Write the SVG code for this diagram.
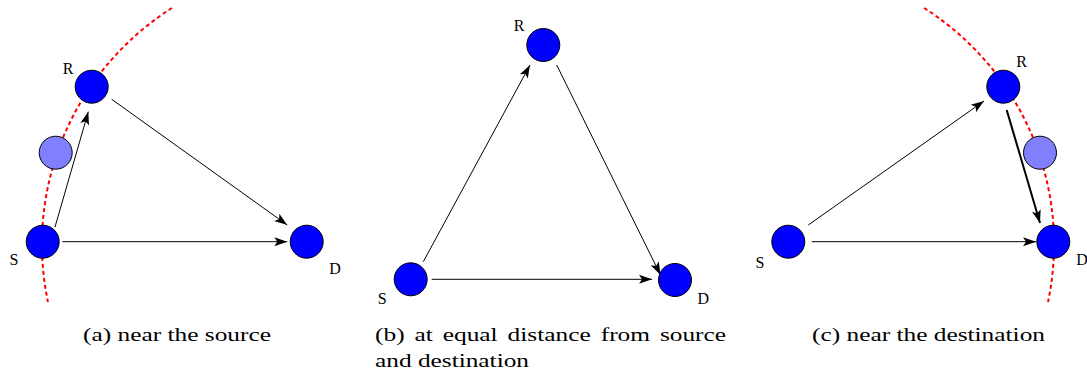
<svg xmlns="http://www.w3.org/2000/svg" width="1087" height="374" viewBox="0 0 1087 374">
<style>
.node{fill:#0000ff;stroke:#000;stroke-width:1}
.ghost{fill:#8080ff;stroke:#000;stroke-width:1}
.arc{fill:none;stroke:#ff0000;stroke-width:2;stroke-dasharray:4 3}
.edge{stroke:#000;stroke-width:1;fill:none;marker-end:url(#ah)}
.thick{stroke-width:2}
.lbl{font-family:"Liberation Serif","DejaVu Serif",serif;font-size:16px;fill:#000;text-anchor:middle}
.cap{font-family:"Liberation Serif","DejaVu Serif",serif;font-size:18px;fill:#000}
</style>
<defs>
<marker id="ah" markerUnits="userSpaceOnUse" viewBox="-14 -5 15 10" refX="0" refY="0" markerWidth="15" markerHeight="10" orient="auto">
<path d="M0,0 L-13,-4.5 L-10,0 L-13,4.5 Z" fill="#000"/>
</marker>
</defs>
<g id="arcs">
<path class="arc" d="M172,8 A279.5,279.5 0 0 0 48,302"/>
<path class="arc" d="M924,8 A279.5,279.5 0 0 1 1048,302"/>
</g>
<g id="connectors">
<line class="edge" x1="55" y1="227" x2="88.3" y2="111.7"/>
<line class="edge" x1="111.7" y1="99.3" x2="287.3" y2="225"/>
<line class="edge" x1="62.3" y1="241.7" x2="287.3" y2="241.7"/>
<line class="edge" x1="423.3" y1="261.7" x2="530" y2="65"/>
<line class="edge" x1="556.7" y1="65" x2="660.5" y2="275"/>
<line class="edge" x1="431.7" y1="279.3" x2="652" y2="279.3"/>
<line class="edge" x1="808.3" y1="225" x2="984" y2="101"/>
<line class="edge thick" x1="1006.7" y1="110" x2="1040" y2="223"/>
<line class="edge" x1="811.7" y1="241.7" x2="1036" y2="241.7"/>
</g>
<g id="a-S"><circle class="node" cx="42.7" cy="241.7" r="16.5"/><text class="lbl" x="14" y="265">S</text></g>
<g id="a-R"><circle class="node" cx="91.7" cy="86.7" r="16.5"/><text class="lbl" x="68" y="73.5">R</text></g>
<g id="a-relay"><circle class="ghost" cx="55.7" cy="152.7" r="16.5"/></g>
<g id="a-D"><circle class="node" cx="306.7" cy="241.7" r="16.5"/><text class="lbl" x="335" y="274">D</text></g>
<g id="b-S"><circle class="node" cx="410.7" cy="279.3" r="16.5"/><text class="lbl" x="382.3" y="304">S</text></g>
<g id="b-R"><circle class="node" cx="543.3" cy="45" r="16.5"/><text class="lbl" x="519" y="30.5">R</text></g>
<g id="b-D"><circle class="node" cx="675" cy="280" r="16.5"/><text class="lbl" x="703.3" y="304">D</text></g>
<g id="c-S"><circle class="node" cx="788.3" cy="241.7" r="16.5"/><text class="lbl" x="760" y="268">S</text></g>
<g id="c-R"><circle class="node" cx="1003.3" cy="86.7" r="16.5"/><text class="lbl" x="1021.7" y="67">R</text></g>
<g id="c-relay"><circle class="ghost" cx="1040" cy="152.7" r="16.5"/></g>
<g id="c-D"><circle class="node" cx="1053.3" cy="241.7" r="16.5"/><text class="lbl" x="1082" y="265">D</text></g>
<g id="captions">
<text class="cap" x="83" y="341" textLength="188" lengthAdjust="spacingAndGlyphs">(a) near the source</text>
<text class="cap" x="375" y="341" textLength="29.6" lengthAdjust="spacingAndGlyphs">(b)</text>
<text class="cap" x="414.5" y="341" textLength="18.3" lengthAdjust="spacingAndGlyphs">at</text>
<text class="cap" x="442.7" y="341" textLength="55" lengthAdjust="spacingAndGlyphs">equal</text>
<text class="cap" x="507.6" y="341" textLength="83.2" lengthAdjust="spacingAndGlyphs">distance</text>
<text class="cap" x="600.7" y="341" textLength="49.3" lengthAdjust="spacingAndGlyphs">from</text>
<text class="cap" x="659.9" y="341" textLength="66.2" lengthAdjust="spacingAndGlyphs">source</text>
<text class="cap" x="375" y="367" textLength="154" lengthAdjust="spacingAndGlyphs">and destination</text>
<text class="cap" x="812" y="341" textLength="233" lengthAdjust="spacingAndGlyphs">(c) near the destination</text>
</g>
</svg>
